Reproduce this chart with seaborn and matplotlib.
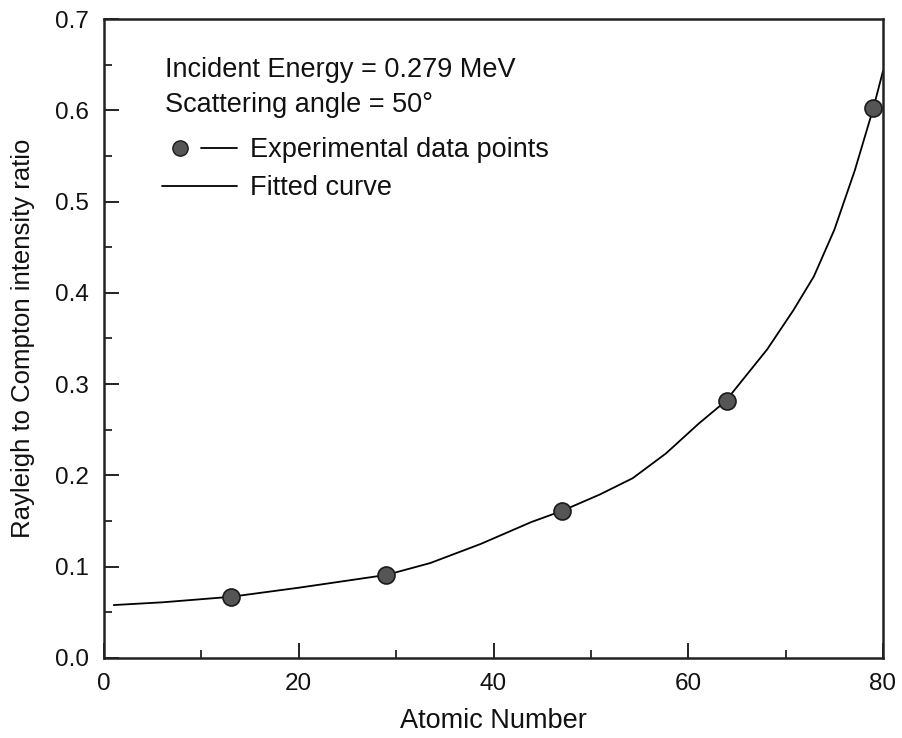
import numpy as np
import pandas as pd
import seaborn as sns
import matplotlib
matplotlib.use('Agg')
import matplotlib.pyplot as plt
from matplotlib.lines import Line2D
from matplotlib.legend_handler import HandlerTuple
from matplotlib.ticker import MultipleLocator

# measured points
atomic_number = [13, 29, 47, 64, 79]
ratio = [0.067, 0.0905, 0.161, 0.282, 0.602]

# fitted curve
fit_z = [1, 6, 13, 20, 29, 33.5, 38.7, 43.9, 47, 50.9, 54.3, 57.7, 61.1,
         63.8, 68.1, 70.8, 72.9, 75, 77.1, 79, 80]
fit_ratio = [0.058, 0.061, 0.067, 0.077, 0.091, 0.104, 0.125, 0.149, 0.161,
             0.179, 0.197, 0.224, 0.257, 0.281, 0.338, 0.381, 0.418, 0.469,
             0.534, 0.602, 0.643]

x_ticks = [0, 20, 40, 60, 80]
y_ticks = [0.0, 0.1, 0.2, 0.3, 0.4, 0.5, 0.6, 0.7]

sns.set_style('ticks')
plt.rcParams['font.family'] = ['Liberation Sans', 'DejaVu Sans']
plt.rcParams['text.color'] = '#111111'
plt.rcParams['axes.labelcolor'] = '#111111'
plt.rcParams['xtick.color'] = '#111111'
plt.rcParams['ytick.color'] = '#111111'

fig = plt.figure(figsize=(9.02, 7.38), dpi=100)
fig.patch.set_facecolor('white')
ax = fig.add_axes([104/902, 80/738, 779/902, 639/738])

pts = pd.DataFrame({'z': atomic_number, 'r': ratio})
fit = pd.DataFrame({'z': fit_z, 'r': fit_ratio})

sns.lineplot(data=fit, x='z', y='r', ax=ax, color='black', lw=1.3,
             sort=False, zorder=2)
sns.scatterplot(data=pts, x='z', y='r', ax=ax, s=150, color='#555555',
                edgecolor='#1a1a1a', linewidth=1.2, zorder=3)

ax.set_xlim(0, 80)
ax.set_ylim(0, 0.7)
ax.set_xticks(x_ticks)
ax.set_yticks(y_ticks)
ax.set_yticklabels([f'{v:.1f}' for v in y_ticks])
ax.xaxis.set_minor_locator(MultipleLocator(10))
ax.yaxis.set_minor_locator(MultipleLocator(0.05))
ax.tick_params(which='major', direction='in', length=11, width=1.3,
               labelsize=17.5, pad=11, top=False, right=False)
ax.tick_params(which='minor', direction='in', length=5.5, width=1.2,
               top=False, right=False)
for s in ax.spines.values():
    s.set_linewidth(1.8)
    s.set_color('#222222')

ax.set_xlabel('Atomic Number', fontsize=19.5, labelpad=9)
ax.set_ylabel('Rayleigh to Compton intensity ratio', fontsize=18.5, labelpad=14)

ax.text(0.078, 0.920, 'Incident Energy = 0.279 MeV', transform=ax.transAxes,
        fontsize=19.5, va='center', ha='left')
ax.text(0.078, 0.865, 'Scattering angle = 50°', transform=ax.transAxes,
        fontsize=19.5, va='center', ha='left')

dot = Line2D([], [], marker='o', ls='none', ms=11, mfc='#555555', mec='#1a1a1a')
seg = Line2D([], [], color='black', lw=1.3)
ax.legend(handles=[(dot, seg), seg],
          labels=['Experimental data points', 'Fitted curve'],
          handler_map={tuple: HandlerTuple(ndivide=None, pad=0.1)},
          loc='upper left', bbox_to_anchor=(0.074, 0.815), frameon=False,
          fontsize=19.5, handlelength=2.8, handletextpad=0.45,
          labelspacing=0.45, borderpad=0, borderaxespad=0)

fig.savefig('out.png', dpi=100)
